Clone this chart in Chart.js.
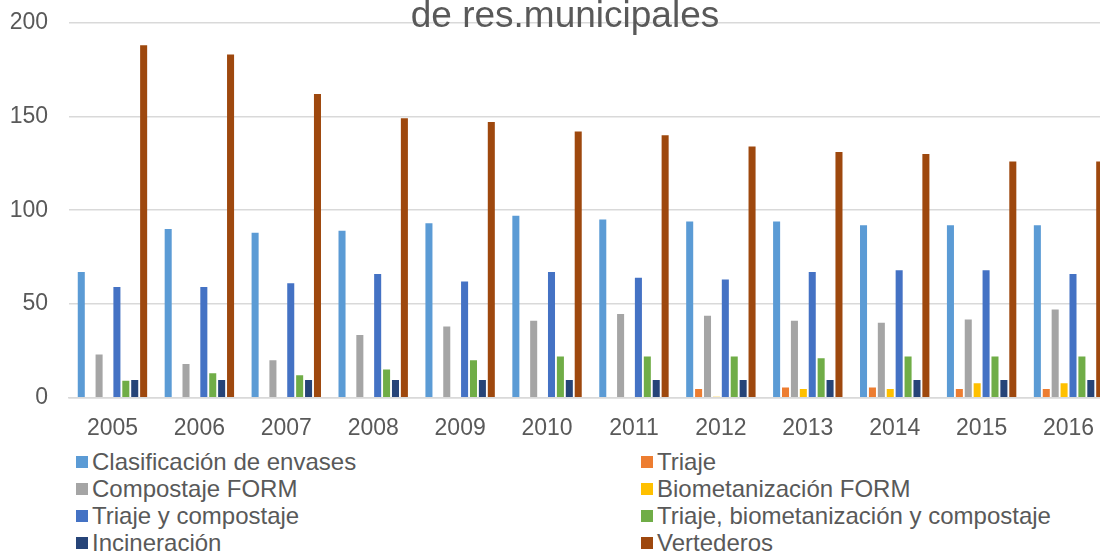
<!DOCTYPE html>
<html>
<head>
<meta charset="utf-8">
<script src="https://cdn.jsdelivr.net/npm/chart.js@4/dist/chart.umd.min.js"></script>
<style>
  body { margin: 0; background: white; overflow: hidden; width: 1100px; height: 553px; position: relative; }
  #caja { position: absolute; left: 0; top: 0; width: 1130px; height: 440px; }
  #leyenda {
    position: absolute; left: 76px; top: 448px;
    display: grid; grid-template-columns: 565px auto;
    font-family: "Liberation Sans", Arial, sans-serif; font-size: 24px; color: #595959;
  }
  .item { display: flex; align-items: center; height: 27.2px; white-space: nowrap; }
  .marca { width: 12px; height: 12px; margin-right: 4px; }
</style>
</head>
<body>
<div id="caja"><canvas id="grafico"></canvas></div>
<div id="leyenda"></div>

<script>
// datos
var anios = ['2005', '2006', '2007', '2008', '2009', '2010', '2011', '2012', '2013', '2014', '2015', '2016']

var clasificacion = [67, 90, 88, 89, 93, 97, 95, 94, 94, 92, 92, 92]
var triaje = [null, null, null, null, null, null, null, 4.6, 5.5, 5.5, 4.6, 4.6]
var compostaje = [23, 18, 20, 33.5, 38, 41, 44.7, 43.7, 41, 40, 41.7, 47]
var biometanizacion = [null, null, null, null, null, null, null, 0.5, 4.6, 4.6, 7.7, 7.7]
var triajeCompostaje = [59, 59, 61, 66, 62, 67, 64, 63, 67, 68, 68, 66]
var triajeBioCompostaje = [9, 13, 12, 15, 20, 22, 22, 22, 21, 22, 22, 22]
var incineracion = [9.5, 9.5, 9.5, 9.5, 9.5, 9.5, 9.5, 9.5, 9.5, 9.5, 9.5, 9.5]
var vertederos = [188, 183, 162, 149, 147, 142, 140, 134, 131, 130, 126, 126]

var ticksY = [0, 50, 100, 150, 200]

var gris = '#595959'
var fuente = '"Liberation Sans", Arial, sans-serif'

function serie(nombre, datos, color) {
    return {
        label: nombre,
        data: datos,
        backgroundColor: color,
        borderWidth: 0,
        categoryPercentage: 0.82,
        barPercentage: 0.79
    }
}

// titulo (solo se ve la segunda linea, el resto queda fuera del recorte)
var tituloPlugin = {
    id: 'titulo',
    afterDraw: function(chart) {
        var ctx = chart.ctx
        ctx.save()
        ctx.font = '37px ' + fuente
        ctx.fillStyle = gris
        ctx.textAlign = 'center'
        ctx.textBaseline = 'alphabetic'
        ctx.fillText('de res.municipales', chart.width / 2, 26.7)
        ctx.restore()
    }
}

var chart = new Chart(document.getElementById('grafico'), {
    type: 'bar',
    data: {
        labels: anios,
        datasets: [
            serie('Clasificación de envases', clasificacion, '#5B9BD5'),
            serie('Triaje', triaje, '#ED7D31'),
            serie('Compostaje FORM', compostaje, '#A5A5A5'),
            serie('Biometanización FORM', biometanizacion, '#FFC000'),
            serie('Triaje y compostaje', triajeCompostaje, '#4472C4'),
            serie('Triaje, biometanización y compostaje', triajeBioCompostaje, '#70AD47'),
            serie('Incineración', incineracion, '#264478'),
            serie('Vertederos', vertederos, '#9E480E')
        ]
    },
    options: {
        responsive: true,
        maintainAspectRatio: false,
        animation: false,
        layout: { padding: { left: 9.4, right: 18, top: 22.7, bottom: 0 } },
        plugins: {
            legend: { display: false },
            tooltip: { enabled: false }
        },
        scales: {
            x: {
                grid: { display: false, drawTicks: false },
                border: { color: '#D9D9D9', width: 1.5 },
                ticks: { color: gris, font: { family: fuente, size: 23 }, padding: 17 },
                afterFit: function(axis) {
                    axis.height = 42.3
                }
            },
            y: {
                min: 0,
                max: 200,
                afterBuildTicks: function(axis) {
                    axis.ticks = ticksY.map(function(v) { return { value: v } })
                },
                grid: { color: '#D9D9D9', lineWidth: 1.5, drawTicks: false },
                border: { display: false },
                ticks: { color: gris, font: { family: fuente, size: 23 }, padding: 21 },
                afterFit: function(axis) {
                    axis.width = 59.6
                    axis.paddingTop = 0
                    axis.paddingBottom = 0
                }
            }
        }
    },
    plugins: [tituloPlugin]
})

// leyenda en dos columnas, como en el original
var leyenda = document.getElementById('leyenda')
for (let ds of chart.data.datasets) {
    var item = document.createElement('div')
    item.className = 'item'
    var marca = document.createElement('span')
    marca.className = 'marca'
    marca.style.backgroundColor = ds.backgroundColor
    var texto = document.createElement('span')
    texto.appendChild(document.createTextNode(ds.label))
    item.appendChild(marca)
    item.appendChild(texto)
    leyenda.appendChild(item)
}
</script>
</body>
</html>
